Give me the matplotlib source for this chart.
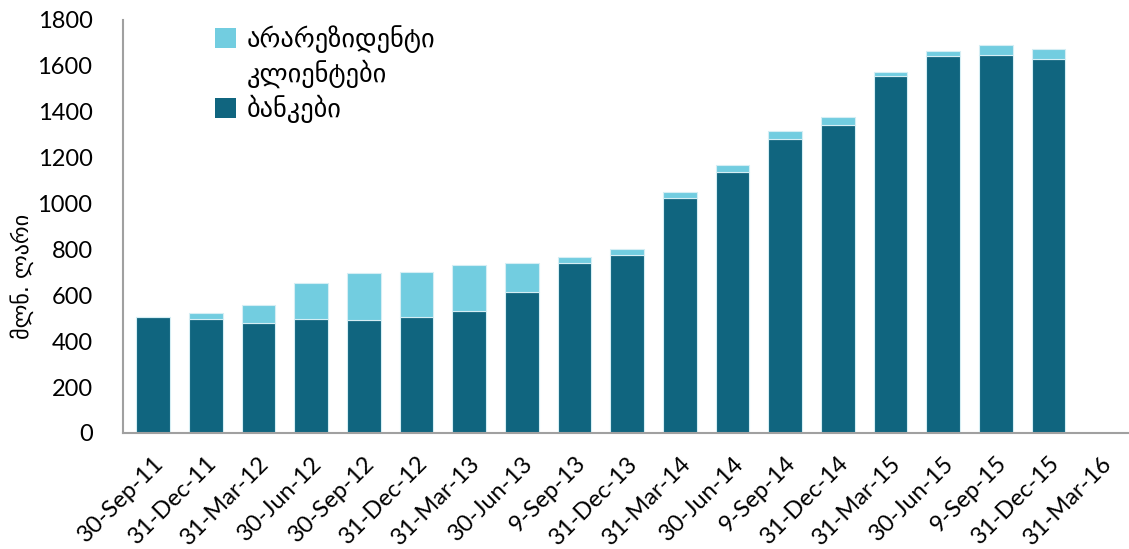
import matplotlib
matplotlib.use("Agg")
import matplotlib.pyplot as plt
from matplotlib.patches import Patch

# თარიღები და მოცულობები (მლნ. ლარი)
dates = ["30-Sep-11", "31-Dec-11", "31-Mar-12", "30-Jun-12", "30-Sep-12", "31-Dec-12",
         "31-Mar-13", "30-Jun-13", "9-Sep-13", "31-Dec-13", "31-Mar-14", "30-Jun-14",
         "9-Sep-14", "31-Dec-14", "31-Mar-15", "30-Jun-15", "9-Sep-15", "31-Dec-15",
         "31-Mar-16"]
banks = [507, 496, 478, 496, 493, 504, 533, 616, 743, 775, 1026, 1136,
         1283, 1341, 1557, 1645, 1649, 1632, 0]
nonresidents = [0, 29, 80, 156, 206, 199, 199, 125, 25, 28, 26, 31,
                34, 36, 17, 19, 41, 41, 0]

DARK = "#10657F"
LIGHT = "#72CDE0"

plt.rcParams["font.family"] = ["Lato", "DejaVu Sans"]

fig = plt.figure(figsize=(11.29, 5.49), dpi=100)
ax = fig.add_axes([0.109, 0.2113, 0.893, 0.7523])

x = list(range(len(dates)))
ax.bar(x, banks, width=0.64, color=DARK, edgecolor="#D5EEF4", linewidth=0.8,
       label="ბანკები", zorder=2)
ax.bar(x, nonresidents, width=0.64, bottom=banks, color=LIGHT,
       edgecolor="#D5EEF4", linewidth=0.8, label="არარეზიდენტი", zorder=2)

ax.set_xlim(-0.57, len(dates) - 0.43)
ax.set_ylim(0, 1800)
ax.set_yticks(range(0, 1801, 200))
ax.set_xticks(x)
ax.set_xticklabels(dates, rotation=45, ha="right", rotation_mode="anchor")
ax.tick_params(axis="both", length=0, labelsize=17, colors="black")
ax.tick_params(axis="x", pad=14)
ax.tick_params(axis="y", pad=22)

for side in ("top", "right"):
    ax.spines[side].set_visible(False)
for side in ("left", "bottom"):
    ax.spines[side].set_color("#A0A0A0")
    ax.spines[side].set_linewidth(1.5)

ax.set_ylabel("მლნ. ლარი", fontsize=16, family="DejaVu Sans")
ax.yaxis.set_label_coords(-0.088, 0.38)

handles = [Patch(facecolor=LIGHT, edgecolor="none"),
           Patch(facecolor="none", edgecolor="none"),
           Patch(facecolor=DARK, edgecolor="none")]
labels = ["არარეზიდენტი", "კლიენტები", "ბანკები"]
ax.legend(handles, labels, loc="upper left", bbox_to_anchor=(0.068, 1.045),
          frameon=False, handlelength=0.8, handleheight=0.8,
          handletextpad=0.4, labelspacing=0.25, prop={"family": "DejaVu Sans", "size": 19})

fig.savefig("out.png", dpi=100)
